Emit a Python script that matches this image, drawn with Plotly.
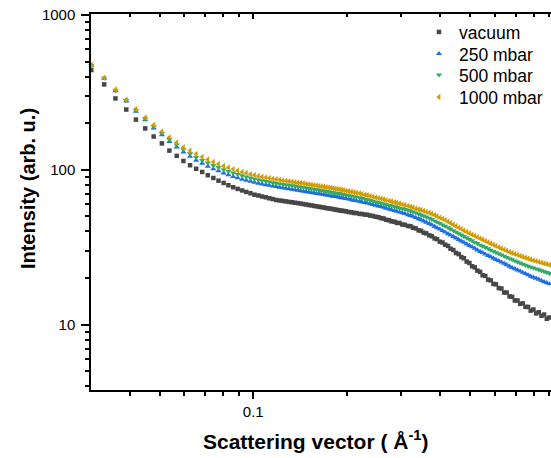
import plotly.graph_objects as go

# Scattering vector grid (1/Angstrom)
q = [
    0.0301, 0.0331, 0.0360, 0.0390, 0.0419, 0.0449, 0.0478, 0.0508, 0.0537, 0.0567,
    0.0596, 0.0626, 0.0655, 0.0685, 0.0714, 0.0744, 0.0773, 0.0803, 0.0832, 0.0862,
    0.0891, 0.0921, 0.0950, 0.0980, 0.1009, 0.1039, 0.1068, 0.1098, 0.1127, 0.1157,
    0.1186, 0.1216, 0.1245, 0.1275, 0.1304, 0.1334, 0.1363, 0.1393, 0.1422, 0.1452,
    0.1481, 0.1511, 0.1540, 0.1570, 0.1599, 0.1629, 0.1658, 0.1688, 0.1717, 0.1747,
    0.1776, 0.1806, 0.1835, 0.1865, 0.1894, 0.1924, 0.1953,
    0.199, 0.203, 0.207, 0.211, 0.215, 0.220, 0.224, 0.229, 0.233, 0.238,
    0.243, 0.248, 0.253, 0.258, 0.263, 0.268, 0.274, 0.279, 0.285, 0.290,
    0.296, 0.302, 0.308, 0.315, 0.321, 0.327, 0.334, 0.341, 0.347, 0.354,
    0.361, 0.369, 0.376, 0.384, 0.391, 0.399, 0.407, 0.415, 0.424, 0.432,
    0.441, 0.450, 0.459, 0.468, 0.477, 0.487, 0.497, 0.507, 0.517, 0.527,
    0.538, 0.548, 0.559, 0.571, 0.582, 0.594, 0.605, 0.618, 0.630, 0.643,
    0.655, 0.669, 0.682, 0.696, 0.710, 0.724, 0.738, 0.753, 0.768, 0.783,
    0.799, 0.815, 0.831, 0.848, 0.865, 0.882, 0.900, 0.918,
]

intensity_vacuum = [
    441, 356, 289, 245, 211, 185, 164, 148, 133, 123,
    114, 107, 101.5, 96.8, 92.2, 88.5, 85.0, 82.2, 79.4, 77.1,
    75.2, 73.5, 71.9, 70.5, 69.0, 68.2, 67.2, 66.4, 65.4, 64.7,
    63.8, 63.3, 62.9, 62.5, 62.0, 61.7, 61.2, 60.9, 60.5, 60.0,
    59.7, 59.2, 58.9, 58.4, 58.1, 57.7, 57.3, 57.0, 56.6, 56.3,
    56.0, 55.7, 55.3, 55.0, 54.7, 54.4, 54.2,
    53.9, 53.3, 53.2, 52.6, 52.5, 51.9, 51.8, 51.3, 51.2, 50.6,
    50.3, 49.7, 49.4, 48.7, 48.4, 47.5, 47.2, 46.4, 46.2, 45.4,
    45.3, 44.3, 44.1, 43.3, 43.2, 42.2, 41.8, 40.6, 40.3, 39.2,
    38.8, 37.7, 37.2, 36.0, 35.6, 34.3, 33.9, 32.8, 32.2, 30.9,
    30.3, 29.0, 28.5, 27.3, 26.8, 25.5, 25.0, 23.8, 23.4, 22.3,
    21.9, 20.8, 20.6, 19.5, 19.3, 18.3, 18.2, 17.2, 17.1, 16.1,
    16.1, 15.2, 15.1, 14.3, 14.3, 13.6, 13.7, 13.0, 13.0, 12.3,
    12.5, 11.8, 12.0, 11.4, 11.6, 10.9, 11.1, 10.6,
]

intensity_250 = [
    472, 389, 323, 278, 238, 210, 186, 168, 152, 140,
    130, 122, 115, 110, 105, 101.2, 98.2, 95.1, 92.6, 90.3,
    88.5, 86.6, 85.3, 84.0, 82.8, 81.7, 80.7, 79.9, 79.2, 78.4,
    77.7, 77.0, 76.4, 75.7, 75.2, 74.6, 74.1, 73.6, 73.1, 72.5,
    72.1, 71.7, 71.1, 70.7, 70.3, 69.9, 69.5, 69.0, 68.6, 68.2,
    67.8, 67.4, 67.1, 66.7, 66.3, 65.9, 65.5,
    65.1, 64.5, 64.0, 63.5, 63.0, 62.5, 61.9, 61.3, 60.8, 60.1,
    59.5, 58.9, 58.3, 57.7, 57.1, 56.4, 55.7, 55.1, 54.4, 53.9,
    53.2, 52.6, 52.0, 51.2, 50.6, 49.9, 49.0, 48.2, 47.5, 46.6,
    45.8, 44.9, 44.0, 43.0, 42.1, 41.3, 40.4, 39.5, 38.6, 37.8,
    37.0, 36.2, 35.4, 34.6, 33.9, 33.1, 32.4, 31.7, 31.0, 30.3,
    29.6, 29.1, 28.5, 27.9, 27.4, 26.8, 26.3, 25.8, 25.3, 24.8,
    24.3, 23.8, 23.3, 22.9, 22.5, 22.1, 21.7, 21.3, 20.9, 20.5,
    20.2, 19.9, 19.6, 19.2, 18.9, 18.6, 18.3, 18.0,
]

intensity_500 = [
    473, 391, 325, 281, 242, 214, 190, 172, 157, 145,
    135, 127, 120.4, 115.2, 110.6, 106.6, 103.5, 100.3, 97.8, 95.4,
    93.5, 91.5, 90.1, 88.6, 87.3, 86.1, 85.0, 84.2, 83.4, 82.5,
    81.8, 81.2, 80.6, 80.0, 79.5, 78.9, 78.4, 77.9, 77.3, 76.7,
    76.3, 75.7, 75.3, 74.7, 74.3, 73.8, 73.4, 73.0, 72.5, 72.1,
    71.7, 71.2, 70.9, 70.5, 70.1, 69.7, 69.2,
    68.7, 68.1, 67.6, 67.1, 66.6, 66.0, 65.4, 64.7, 64.1, 63.4,
    62.7, 62.0, 61.4, 60.8, 60.2, 59.6, 58.9, 58.4, 57.7, 57.2,
    56.6, 56.0, 55.4, 54.8, 54.2, 53.5, 52.7, 51.8, 51.1, 50.3,
    49.6, 48.7, 47.8, 46.8, 45.9, 45.1, 44.1, 43.3, 42.3, 41.5,
    40.5, 39.6, 38.7, 37.9, 37.1, 36.3, 35.5, 34.8, 34.0, 33.4,
    32.6, 32.1, 31.5, 30.9, 30.3, 29.7, 29.2, 28.7, 28.2, 27.7,
    27.2, 26.7, 26.3, 25.8, 25.4, 25.0, 24.6, 24.2, 23.8, 23.5,
    23.2, 22.9, 22.6, 22.3, 22.0, 21.7, 21.4, 21.2,
]

intensity_1000 = [
    475, 394, 330, 284, 247, 218, 195, 177, 162, 150,
    140, 133, 126.5, 121, 116.6, 112.3, 109.0, 105.8, 103.5, 100.9,
    99.0, 96.8, 95.4, 93.8, 92.6, 91.2, 90.1, 89.2, 88.4, 87.6,
    86.8, 86.1, 85.4, 84.8, 84.3, 83.7, 83.2, 82.5, 82.1, 81.6,
    81.0, 80.5, 80.0, 79.5, 79.0, 78.6, 78.1, 77.7, 77.2, 76.7,
    76.4, 75.9, 75.5, 75.2, 74.7, 74.3, 73.8,
    73.3, 72.6, 72.1, 71.6, 71.0, 70.4, 69.8, 69.0, 68.4, 67.7,
    67.0, 66.3, 65.6, 65.1, 64.4, 63.7, 63.0, 62.4, 61.7, 61.2,
    60.5, 59.8, 59.2, 58.5, 57.8, 57.2, 56.3, 55.6, 55.0, 54.3,
    53.5, 52.8, 52.0, 51.0, 50.1, 49.1, 48.2, 47.3, 46.3, 45.3,
    44.3, 43.3, 42.3, 41.5, 40.5, 39.7, 38.9, 38.1, 37.4, 36.7,
    36.0, 35.4, 34.7, 34.0, 33.4, 32.8, 32.2, 31.6, 31.0, 30.5,
    30.0, 29.4, 29.0, 28.6, 28.2, 27.8, 27.4, 27.0, 26.7, 26.3,
    26.0, 25.7, 25.4, 25.1, 24.8, 24.6, 24.3, 24.0,
]

series_names = ["vacuum", "250 mbar", "500 mbar", "1000 mbar"]
series_values = [intensity_vacuum, intensity_250, intensity_500, intensity_1000]
symbols = ["square", "triangle-up", "triangle-down", "triangle-left"]
colors = ["#474747", "#1f6fe0", "#35a96a", "#d29c00"]
sizes = [4.5, 5.5, 5.5, 5.5]

x_major = [0.1]
x_minor = [0.04, 0.05, 0.06, 0.07, 0.08, 0.09, 0.2, 0.3, 0.4, 0.5, 0.6, 0.7, 0.8, 0.9]
y_major = [10, 100, 1000]
y_minor = [m * d for d in (1, 10, 100) for m in range(2, 10)]

FONT = "Arial, 'Liberation Sans', sans-serif"

fig = go.Figure()
legend_ids = ["legend", "legend2", "legend3", "legend4"]
for name, vals, sym, col, sz, lg in zip(series_names, series_values, symbols, colors, sizes, legend_ids):
    fig.add_trace(go.Scatter(
        x=q, y=vals, mode="markers", name=name, legend=lg,
        marker=dict(symbol=sym, size=sz, color=col, line=dict(width=0)),
        cliponaxis=False,
    ))

# empty trace so the mirrored top axis is rendered
fig.add_trace(go.Scatter(x=[], y=[], xaxis="x2", yaxis="y", showlegend=False, hoverinfo="skip"))

x_range = [-1.5225, -0.0409]
y_range = [0.577, 3.0065]

axis_common = dict(
    type="log", showgrid=False, zeroline=False,
    showline=True, linecolor="black", linewidth=1.5,
    ticks="outside", tickwidth=1.5, tickcolor="black",
    tickfont=dict(family=FONT, size=15, color="black"),
)

fig.update_layout(
    width=551, height=458,
    margin=dict(l=91, r=0, t=14, b=68),
    paper_bgcolor="white", plot_bgcolor="white",
    xaxis=dict(
        **axis_common, range=x_range, tickmode="array", tickvals=x_major,
        ticktext=["0.1"], ticklen=7,
        minor=dict(tickmode="array", tickvals=x_minor, ticks="outside", ticklen=4,
                   tickwidth=1.5, tickcolor="black", showgrid=False),
    ),
    xaxis2=dict(
        type="log", range=x_range, overlaying="x", side="top", anchor="y",
        showgrid=False, zeroline=False, showline=True, linecolor="black", linewidth=1.5,
        ticks="inside", ticklen=5, tickwidth=1.5, tickcolor="black",
        tickmode="array", tickvals=x_major, showticklabels=False,
        minor=dict(tickmode="array", tickvals=x_minor, ticks="inside", ticklen=3,
                   tickwidth=1.5, tickcolor="black", showgrid=False),
    ),
    yaxis=dict(
        **axis_common, range=y_range, tickmode="array", tickvals=y_major,
        ticktext=["10", "100", "1000"], ticklen=8, ticklabelstandoff=3,
        minor=dict(tickmode="array", tickvals=y_minor, ticks="outside", ticklen=4,
                   tickwidth=1.5, tickcolor="black", showgrid=False),
    ),
    showlegend=True,
)

# one legend box per entry, stacked in the upper right corner
legend_rows = [0.952, 0.894, 0.838, 0.779]
for lg, yr in zip(legend_ids, legend_rows):
    fig.update_layout({lg: dict(
        x=0.713, y=yr, xanchor="left", yanchor="middle",
        bgcolor="rgba(0,0,0,0)", borderwidth=0,
        font=dict(family=FONT, size=17.5, color="black"),
    )})

fig.add_annotation(
    text="<b>Scattering vector ( Å<sup>-1</sup>)</b>", xref="paper", yref="paper",
    x=0.489, y=-0.133, xanchor="center", yanchor="middle", showarrow=False,
    font=dict(family=FONT, size=21, color="black"),
)
fig.add_annotation(
    text="<b>Intensity (arb. u.)</b>", xref="paper", yref="paper", textangle=-90,
    x=-0.137, y=0.537, xanchor="center", yanchor="middle", showarrow=False,
    font=dict(family=FONT, size=20, color="black"),
)

fig.write_html("out.html")
